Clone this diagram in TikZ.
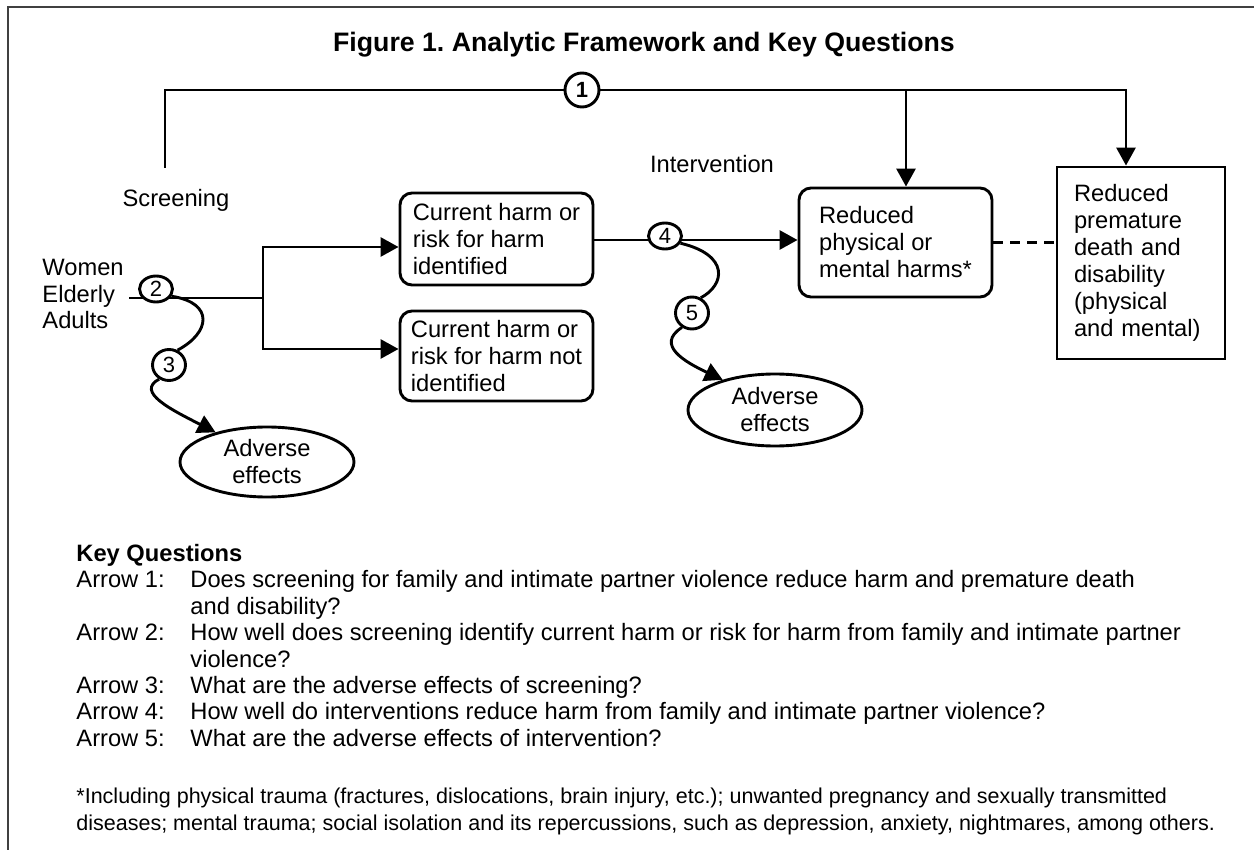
\documentclass[tikz,border=0pt]{standalone}
\usepackage{fontspec}
\setmainfont{Liberation Sans}
\usetikzlibrary{arrows.meta,shapes.geometric,positioning}

\newcommand{\boxfont}{\fontsize{23.7}{27}\selectfont}
\newcommand{\kqfont}{\fontsize{23.7}{26.4}\selectfont}
\newcommand{\notefont}{\fontsize{21.5}{27}\selectfont}
\newcommand{\numfont}{\fontsize{22}{22}\selectfont}

\tikzset{
    harmbox/.style={draw, rounded corners=12pt, align=left, minimum width=193pt, inner sep=0pt, font=\boxfont},
    endbox/.style={draw, align=left, text width=134pt, inner xsep=17pt, inner ysep=0pt, minimum height=192pt, font=\boxfont},
    effect/.style={draw, ellipse, align=center, minimum width=174pt, inner sep=0pt, font=\boxfont},
    num/.style={draw, ellipse, fill=white, inner sep=0pt, minimum width=33pt, font=\numfont},
    lbl/.style={inner sep=0pt, font=\boxfont},
    arr/.style={-{Triangle[length=18pt,width=19pt]}}
}

\begin{document}
\frenchspacing
\begin{tikzpicture}[x=1pt, y=1pt, line width=2.9pt]
                \useasboundingbox (0,0) rectangle (1254,-850);
                \draw[black!75, line width=2pt] (8,-850) -- (8,-7) -- (1254,-7);

                \node[font=\fontsize{26.7}{30}\selectfont\bfseries] (title) at (644,-45) {Figure 1. Analytic Framework and Key Questions};

                \node[lbl, anchor=west, align=left, font=\fontsize{23.7}{26.5}\selectfont] (pop) at (41,-294) {Women\\Elderly\\Adults};
                \node[lbl] (scr) at (176,-200) {Screening};
                \node[lbl] (intv) at (712,-164) {Intervention};
                \node[harmbox, minimum height=92pt] (ident) at (496.5,-239) {Current harm or\\risk for harm\\identified};
                \node[harmbox, minimum height=90pt] (notid) at (496.5,-356) {Current harm or\\risk for harm not\\identified};
                \node[harmbox, minimum height=109pt] (harms) at (895.5,-242.5) {Reduced\\physical or\\mental harms*};
                \node[endbox] (death) at (1141,-263) {Reduced\\premature\\death and\\disability\\(physical\\and mental)};
                \node[effect, minimum height=70pt] (eff1) at (267,-462) {Adverse\\effects};
                \node[effect, minimum height=72pt] (eff2) at (775,-410) {Adverse\\effects};

                \coordinate (scrtop) at (165,-168);
                \coordinate (j1) at (906,-90);
                \coordinate (j2) at (1126,-90);
                \coordinate (split) at (263,-298);

                \draw[arr] (scrtop) |- (j2) -- (j2 |- death.north);
                \draw[arr] (j1) -- (j1 |- harms.north);
                \draw ([shift={(4pt,-4pt)}]pop.east) -- (split);
                \draw[arr] (split) |- ([yshift=-8pt]ident.west);
                \draw[arr] (split) |- ([yshift=7pt]notid.west);
                \draw[arr] ([yshift=-1pt]ident.east) -- ([yshift=-1pt]ident.east -| harms.west);
                \draw[dash pattern=on 10pt off 7pt] (harms.east) -- (harms.east -| death.west);

                \node[num, circle, minimum size=34pt, font=\numfont\bfseries] (c1) at (582,-90) {1};
                \foreach \n/\x/\y/\h in {2/156/-289/26pt, 3/169/-365/31pt, 4/665/-236/26pt, 5/692/-313/32pt}
                    {
                        \node[num, minimum height=\h] (c\n) at (\x,\y) {\n};
                    }

                \draw (c2.-25) .. controls (215,-303) and (210,-333) .. (c3.60);
                \draw[arr] (c3.235) .. controls (135,-392) and (172,-410) .. (eff1.150);
                \draw (c4.-25) .. controls (730,-255) and (725,-285) .. (c5.60);
                \draw[arr] (c5.235) .. controls (655,-345) and (685,-362) .. (eff2.150);

                \node[anchor=base west, inner sep=0pt, font=\kqfont] (kq) at (75,-561.5) {\begin{tabular}[t]{@{}p{114pt}@{}l@{}}
                    \multicolumn{2}{@{}l@{}}{\bfseries Key Questions}\\
                    Arrow 1: & Does screening for family and intimate partner violence reduce harm and premature death\\
                    & and disability?\\
                    Arrow 2: & How well does screening identify current harm or risk for harm from family and intimate partner\\
                    & violence?\\
                    Arrow 3: & What are the adverse effects of screening?\\
                    Arrow 4: & How well do interventions reduce harm from family and intimate partner violence?\\
                    Arrow 5: & What are the adverse effects of intervention?
                \end{tabular}};

                \node[anchor=base west, inner sep=0pt, font=\notefont] (note) at (75,-803) {\begin{tabular}[t]{@{}l@{}}
                    *Including physical trauma (fractures, dislocations, brain injury, etc.); unwanted pregnancy and sexually transmitted\\
                    diseases; mental trauma; social isolation and its repercussions, such as depression, anxiety, nightmares, among others.
                \end{tabular}};
\end{tikzpicture}
\end{document}
